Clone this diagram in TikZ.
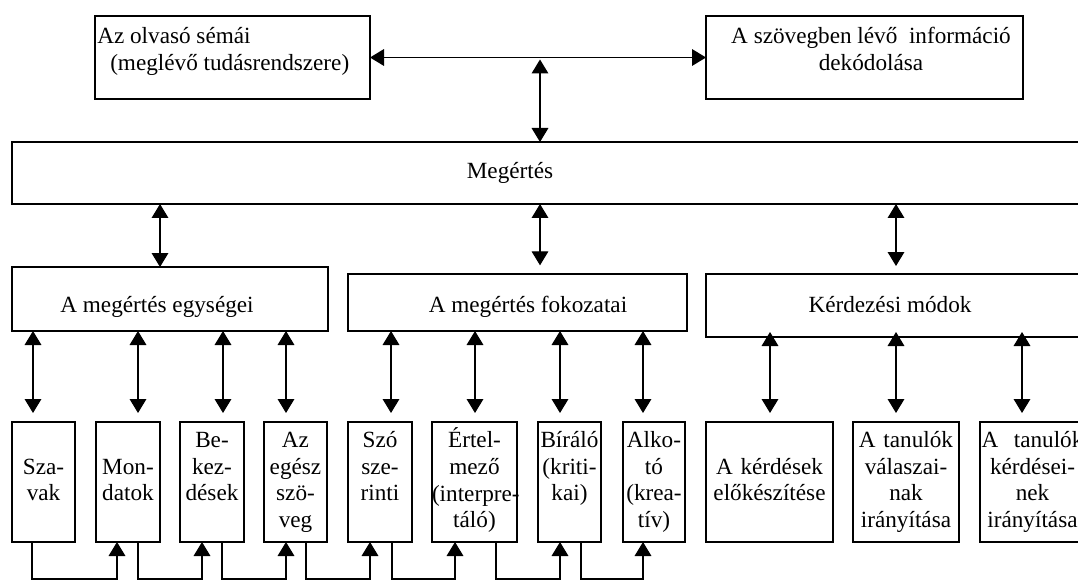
\documentclass[tikz,border=0pt]{standalone}
\usepackage{fontspec}
\setmainfont{Liberation Serif}
\usetikzlibrary{arrows.meta}
\hyphenpenalty=10000
\exhyphenpenalty=10000
\newcommand\plainbox[5]{\node[box, minimum width=#4, minimum height=#5] (#1) at (#2,#3) {};}
\newcommand\textbox[4]{\node[box, align=center, text width=#3, minimum height=90pt] (#1) at (#2,482) {#4};}
\newcommand\vlink[5]{\coordinate (v#1) at (#1,0);
  \draw[conn,<->,shorten <=#4,shorten >=#5] (#2.south -| v#1) -- (#3.north -| v#1);}
\newcommand\chain[4]{\coordinate (d#1) at (#1,579);
  \coordinate (u#3) at (#3,579);
  \draw[conn,->] (#2.south -| d#1) -- (d#1) -- (u#3) -- (#4.south -| u#3);}
\begin{document}
\begin{tikzpicture}[x=0.75pt,y=-0.75pt,
  font=\fontsize{17.4}{20}\selectfont,
  >={Triangle[width=12.5pt,length=10.5pt]},
  box/.style={draw, line width=0.9pt, inner sep=0pt, outer sep=0pt},
  lbl/.style={inner sep=0pt},
  conn/.style={line width=0.9pt}]
\useasboundingbox (0,0) rectangle (1078,581);
\clip (0,0) rectangle (1078,581);

% top boxes
\plainbox{tl}{232.5}{57.5}{206.25pt}{62.25pt}
\plainbox{tr}{864.5}{57.5}{237.75pt}{62.25pt}
\node[lbl, anchor=north west, align=left] (tltext) at (97,25)
  {\strut Az olvasó sémái\\\hspace{9.75pt}(meglévő tudásrendszere)};
\node[lbl, anchor=north, align=center] (trtext) at (871,25)
  {\strut A szövegben lévő\ \ információ\\dekódolása};

% Megertes
\plainbox{meg}{553.5}{173}{812.25pt}{46.5pt}
\node[lbl, anchor=base] (megtext) at (510,179) {Megértés};

% row 2
\plainbox{r2a}{170}{299}{237pt}{48pt}
\plainbox{r2b}{517.5}{302.5}{254.25pt}{42.75pt}
\plainbox{r2c}{900.5}{305.5}{291.75pt}{47.25pt}
\node[lbl, anchor=base] (r2atext) at (157,312) {A megértés egységei};
\node[lbl, anchor=base] (r2btext) at (528,312) {A megértés fokozatai};
\node[lbl, anchor=base] (r2ctext) at (890,312) {Kérdezési módok};

% row 3
\textbox{b1}{43.5}{47.25pt}{\strut\\Sza-\\vak\\\strut}
\textbox{b2}{128}{48pt}{\strut\\Mon-\\datok\\\strut}
\textbox{b3}{212}{48pt}{\strut Be-\\kez-\\dések\\\strut}
\textbox{b4}{295.5}{47.25pt}{\strut Az\\egész\\szö-\\veg\strut}
\textbox{b5}{380}{48pt}{\strut Szó\\sze-\\rinti\\\strut}
\textbox{b6}{474.5}{63.75pt}{\strut Értel-\\mező\\\mbox{(interpre-}\\táló)\strut}
\textbox{b7}{569.5}{47.25pt}{\strut Bíráló\\(kriti-\\kai)\\\strut}
\textbox{b8}{654}{46.5pt}{\strut Alko-\\tó\\(krea-\\tív)\strut}
\textbox{b9}{769.5}{95.25pt}{\strut\\A kérdések\\előkészítése\\\strut}
\textbox{b10}{906}{79.5pt}{\strut A tanulók\\válaszai-\\nak\\irányítása\strut}
\textbox{b11}{1032.5}{78.75pt}{\strut A\ \ tanulók\\kérdései-\\nek\\irányítása\strut}

% top connectors
\draw[conn,<->] (tl.east) -- (tr.west);
\coordinate (j) at (540,57.5);
\draw[conn,<->,shorten <=1.5pt] (j) -- (j |- meg.north);

% Megertes -> row 2
\vlink{160}{meg}{r2a}{0pt}{0pt}
\vlink{540}{meg}{r2b}{0pt}{6.5pt}
\vlink{896}{meg}{r2c}{0pt}{6pt}

% row 2 -> row 3
\vlink{33}{r2a}{b1}{0pt}{6.75pt}
\vlink{138}{r2a}{b2}{0pt}{6.75pt}
\vlink{223}{r2a}{b3}{0pt}{6.75pt}
\vlink{286}{r2a}{b4}{0pt}{6.75pt}
\vlink{391}{r2b}{b5}{0pt}{6.75pt}
\vlink{475}{r2b}{b6}{0pt}{6.75pt}
\vlink{560}{r2b}{b7}{0pt}{6.75pt}
\vlink{643}{r2b}{b8}{0pt}{6.75pt}
\vlink{770}{r2c}{b9}{-3.75pt}{6.75pt}
\vlink{896}{r2c}{b10}{-3.75pt}{6.75pt}
\vlink{1022}{r2c}{b11}{-3.75pt}{6.75pt}

% bottom chain
\chain{32}{b1}{117}{b2}
\chain{138}{b2}{202}{b3}
\chain{222}{b3}{286}{b4}
\chain{306}{b4}{370}{b5}
\chain{392}{b5}{455}{b6}
\chain{496}{b6}{560}{b7}
\chain{581}{b7}{643}{b8}
\end{tikzpicture}
\end{document}
